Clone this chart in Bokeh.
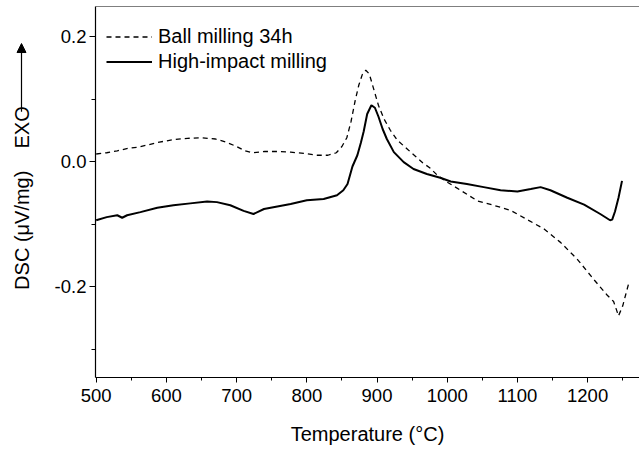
import math
from bokeh.plotting import figure
from bokeh.layouts import row
from bokeh.models import (Range1d, Legend, LegendItem, Label, Arrow, NormalHead, Span,
                          FixedTicker, PrintfTickFormatter)
from bokeh.embed import file_html
from bokeh.resources import INLINE

# ---- data ----
ball_T = [500, 515, 530, 545, 560, 575, 590, 610, 630, 650, 670, 685, 700, 712, 722,
          740, 758, 777, 796, 815, 830, 842, 850, 857, 863, 869, 874, 879, 884, 889,
          895, 902, 910, 919, 929, 943, 955, 965, 975, 986, 1000, 1019, 1043, 1066,
          1090, 1114, 1138, 1161, 1185, 1209, 1228, 1237, 1241, 1244, 1247, 1250,
          1254, 1259]
ball_dsc = [0.012, 0.014, 0.017, 0.021, 0.023, 0.027, 0.031, 0.035, 0.037, 0.038,
            0.036, 0.031, 0.024, 0.017, 0.014, 0.016, 0.016, 0.015, 0.013, 0.010,
            0.010, 0.014, 0.024, 0.038, 0.064, 0.098, 0.122, 0.139, 0.146, 0.140,
            0.117, 0.090, 0.068, 0.050, 0.034, 0.020, 0.008, -0.002, -0.010, -0.022,
            -0.033, -0.046, -0.063, -0.070, -0.078, -0.093, -0.108, -0.129, -0.156,
            -0.189, -0.214, -0.224, -0.237, -0.247, -0.239, -0.231, -0.214, -0.193]

hi_T = [500, 515, 530, 537, 544, 563, 587, 610, 634, 658, 672, 691, 710, 724, 739,
        758, 777, 800, 824, 843, 852, 858, 865, 872, 877, 881, 886, 892, 897, 902,
        908, 914, 924, 938, 952, 971, 990, 1005, 1028, 1052, 1076, 1100, 1119, 1133,
        1147, 1171, 1195, 1218, 1232, 1235, 1239, 1244, 1249]
hi_dsc = [-0.094, -0.089, -0.086, -0.090, -0.086, -0.081, -0.074, -0.070, -0.067,
          -0.064, -0.065, -0.070, -0.079, -0.084, -0.076, -0.072, -0.068, -0.062,
          -0.060, -0.054, -0.046, -0.036, -0.008, 0.010, 0.030, 0.048, 0.076, 0.090,
          0.086, 0.072, 0.052, 0.036, 0.015, -0.001, -0.012, -0.020, -0.026, -0.032,
          -0.036, -0.041, -0.046, -0.048, -0.044, -0.041, -0.046, -0.058, -0.069,
          -0.084, -0.094, -0.093, -0.080, -0.058, -0.031]

x_major = [500, 600, 700, 800, 900, 1000, 1100, 1200]
x_minor = [550, 650, 750, 850, 950, 1050, 1150, 1250]
y_major = [-0.2, 0.0, 0.2]
y_minor = [-0.3, -0.1, 0.1]

FONT = "Liberation Sans"
LEFT_W = 46  # width of the strip that carries the y-axis title

# ---- left strip: y-axis title with the EXO arrow ----
t = figure(width=LEFT_W, height=451, output_backend="svg", toolbar_location=None,
           x_range=Range1d(0, LEFT_W), y_range=Range1d(451, 0),
           min_border=0, min_border_left=0, min_border_right=0,
           min_border_top=0, min_border_bottom=0)
t.axis.visible = False
t.grid.visible = False
t.outline_line_color = None
t.background_fill_color = "white"
t.border_fill_color = "white"
t.add_layout(Label(x=21, y=272, text="DSC (μV/mg)", angle=math.pi / 2,
                   text_align="center", text_baseline="middle", text_color="black",
                   text_font=FONT, text_font_size="20px"))
t.add_layout(Label(x=21, y=147, text="EXO", angle=math.pi / 2,
                   text_align="center", text_baseline="middle", text_color="black",
                   text_font=FONT, text_font_size="20px"))
t.add_layout(Arrow(x_start=21, y_start=128, x_end=21, y_end=45, line_width=1.2,
                   line_color="black",
                   end=NormalHead(size=9, fill_color="black", line_color="black")))

# ---- main plot ----
p = figure(width=639 - LEFT_W, height=451, output_backend="svg", toolbar_location=None,
           x_range=Range1d(499, 1273.9), y_range=Range1d(-0.3456, 0.248),
           min_border_left=95 - LEFT_W, min_border_right=0, min_border_top=6,
           min_border_bottom=74)
p.outline_line_color = None
p.xgrid.visible = False
p.ygrid.visible = False
p.background_fill_color = "white"
p.border_fill_color = "white"

r1 = p.line(ball_T, ball_dsc, line_color="black", line_width=1.3, line_dash="5 4")
r2 = p.line(hi_T, hi_dsc, line_color="black", line_width=2)

# top frame line
p.add_layout(Span(location=0.248, dimension="width", line_color="black", line_width=1.2))

for ax in (p.xaxis, p.yaxis):
    ax.axis_line_color = "black"
    ax.axis_line_width = 1.2
    ax.major_tick_line_color = "black"
    ax.minor_tick_line_color = "black"
    ax.major_tick_in = 0
    ax.minor_tick_in = 0
    ax.major_label_text_font = FONT
    ax.major_label_text_font_size = "18.5px"
    ax.major_label_text_color = "black"
    ax.axis_label_text_font = FONT
    ax.axis_label_text_font_style = "normal"
    ax.axis_label_text_color = "black"

p.xaxis.ticker = FixedTicker(ticks=x_major, minor_ticks=x_minor)
p.yaxis.ticker = FixedTicker(ticks=y_major, minor_ticks=y_minor)
p.yaxis.formatter = PrintfTickFormatter(format="%.1f")
p.xaxis.major_tick_out = 5
p.xaxis.minor_tick_out = 3
p.yaxis.major_tick_out = 6
p.yaxis.minor_tick_out = 4
p.xaxis.major_label_standoff = 6
p.yaxis.major_label_standoff = 3
p.xaxis.axis_label = "Temperature (°C)"
p.xaxis.axis_label_text_font_size = "20px"
p.xaxis.axis_label_standoff = 18

legend = Legend(items=[LegendItem(label="Ball milling 34h", renderers=[r1]),
                       LegendItem(label="High-impact milling", renderers=[r2])],
                location=(11, 304), glyph_width=46, glyph_height=21, label_height=21,
                label_standoff=6, padding=0, spacing=2, margin=0,
                border_line_color=None, background_fill_alpha=0,
                label_text_font=FONT, label_text_font_size="20px",
                label_text_color="black")
p.add_layout(legend)

layout = row(t, p, spacing=0)
open("out.html", "w").write(file_html(layout, INLINE))
